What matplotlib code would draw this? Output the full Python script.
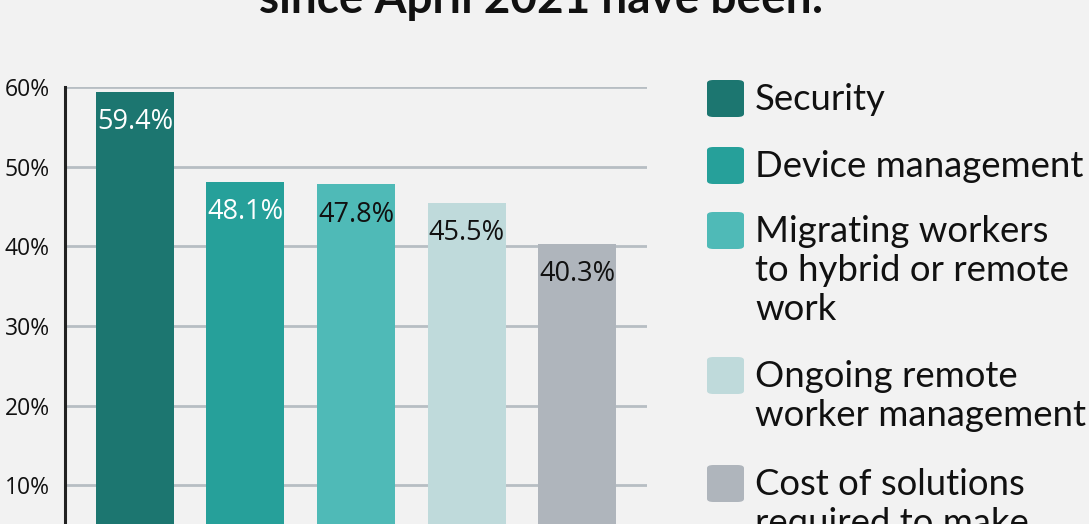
import matplotlib.pyplot as plt
from matplotlib.patches import FancyBboxPatch

# data
categories = ['Security', 'Device management', 'Migrating workers\nto hybrid or remote\nwork',
              'Ongoing remote\nworker management', 'Cost of solutions\nrequired to make']
values = [59.4, 48.1, 47.8, 45.5, 40.3]
colors = ['#1c7670', '#26a09a', '#4fbab7', '#bfdadb', '#afb5bc']
label_colors = ['white', 'white', '#111111', '#111111', '#111111']
yticks = [10, 20, 30, 40, 50, 60]

bg = '#f2f2f2'
W, H = 1089, 524

fig = plt.figure(figsize=(W / 100, H / 100), dpi=100, facecolor=bg)

# axes placed in pixel terms; the bottom of the chart is cropped off
left, right, top, bottom = 65, 647, 87, 565
ax = fig.add_axes([left / W, (H - bottom) / H, (right - left) / W, (bottom - top) / H])
ax.set_facecolor(bg)

x = list(range(len(values)))
bars = ax.bar(x, values, width=0.706, color=colors, zorder=3)
ax.set_xlim(-0.633, 4.633)
ax.set_ylim(0, 60)

ax.set_yticks(yticks)
ax.set_yticklabels([f'{t}%' for t in yticks], fontsize=16.5, family='Open Sans', color='#111111')
ax.tick_params(axis='y', length=0, pad=11)
ax.set_xticks([])
ax.yaxis.grid(True, color='#b7bec3', linewidth=2, zorder=0)
for s in ['top', 'right', 'bottom']:
    ax.spines[s].set_visible(False)
ax.spines['left'].set_color('#222222')
ax.spines['left'].set_linewidth(2.2)
ax.spines['left'].set_zorder(4)

for xi, v, c in zip(x, values, label_colors):
    ax.annotate(f'{v}%', (xi, v), xytext=(0, -22), textcoords='offset points',
                ha='center', va='center', fontsize=19.5, family='Open Sans', color=c, zorder=5)

# title, top line cut off by the crop
fig.text(541 / W, 1 - 13 / H, 'since April 2021 have been:', ha='center', va='baseline',
         fontsize=33, fontweight='bold', family='Lato', color='#111111')

# legend drawn by hand
sq_tops = [80, 147, 212, 357, 465]
sq = 37
for cat, col, t in zip(categories, colors, sq_tops):
    box = FancyBboxPatch((707 / W, 1 - (t + sq) / H), sq / W, sq / H,
                         boxstyle='round,pad=0,rounding_size=0.006', transform=fig.transFigure,
                         facecolor=col, edgecolor='none')
    fig.patches.append(box)
    fig.text(755 / W, 1 - (t + 3) / H, cat, ha='left', va='top', fontsize=26.3,
             family='Lato', color='#111111', linespacing=1.23)

fig.savefig('out.png', dpi=100, facecolor=bg)
